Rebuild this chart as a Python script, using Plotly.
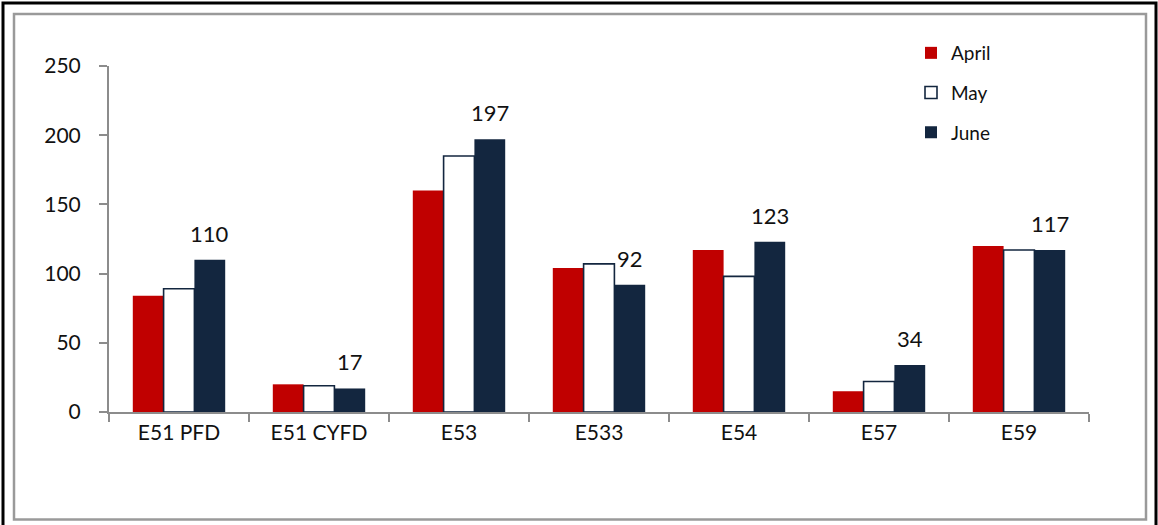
import plotly.graph_objects as go

categories = ["E51 PFD", "E51 CYFD", "E53", "E533", "E54", "E57", "E59"]
april = [84, 20, 160, 104, 117, 15, 120]
may = [89, 19, 185, 107, 98, 22, 117]
june = [110, 17, 197, 92, 123, 34, 117]
y_ticks = [0, 50, 100, 150, 200, 250]

RED = "#C00000"
NAVY = "#13263F"
FONT = "Lato, Open Sans, sans-serif"
BARGAP = 0.34

L, R, T, B = 109, 69, 66, 113
W, H = 1158, 525
pw, ph = W - L - R, H - T - B

fig = go.Figure()
fig.add_trace(go.Bar(name="April", x=categories, y=april,
                     marker=dict(color=RED, line=dict(color=RED, width=0)),
                     legendgroup="a"))
fig.add_trace(go.Bar(name="May", x=categories, y=may,
                     marker=dict(color="white", line=dict(color=NAVY, width=1.6)),
                     legendgroup="b"))
fig.add_trace(go.Bar(name="June", x=categories, y=june,
                     marker=dict(color=NAVY, line=dict(color=NAVY, width=0)),
                     legendgroup="c"))

# June value labels, placed above the June bar of each group
cat_px = pw / len(categories)
bar_px = cat_px * (1 - BARGAP) / 3
for c, v in zip(categories, june):
    fig.add_annotation(x=c, y=v, xref="x", yref="y", text=str(v),
                       showarrow=False, xanchor="center", yanchor="bottom",
                       xshift=bar_px, yshift=11,
                       font=dict(size=22, family=FONT, color="#111111"))


def px_x(p):
    return (p - L) / pw


def px_y(p):
    return (H - B - p) / ph


shapes = [
    dict(type="rect", xref="paper", yref="paper",
         x0=px_x(3), x1=px_x(1156), y0=px_y(700), y1=px_y(3),
         line=dict(color="black", width=3), layer="below"),
    dict(type="rect", xref="paper", yref="paper",
         x0=px_x(14), x1=px_x(1146), y0=px_y(519.5), y1=px_y(14),
         line=dict(color="#9a9a9a", width=2.5), layer="below"),
]

fig.update_layout(
    width=W, height=H,
    margin=dict(l=L, r=R, t=T, b=B, pad=0),
    paper_bgcolor="white", plot_bgcolor="white",
    barmode="group", bargap=BARGAP, bargroupgap=0,
    font=dict(family=FONT, size=19, color="#111111"),
    shapes=shapes,
    showlegend=True,
    legend=dict(x=px_x(911), y=px_y(34), xanchor="left", yanchor="top",
                font=dict(size=19, family=FONT, color="#111111"),
                tracegroupgap=12, bgcolor="rgba(0,0,0,0)",
                itemwidth=30),
)
fig.update_xaxes(
    showline=True, linecolor="#8c8c8c", linewidth=2,
    ticks="outside", tickson="boundaries", ticklen=8, tickcolor="#8c8c8c", tickwidth=2,
    tickfont=dict(size=21, family=FONT, color="#111111"),
    ticklabelstandoff=1,
    showgrid=False,
)
fig.update_yaxes(
    range=[0, 250], tickvals=y_ticks,
    showline=True, linecolor="#8c8c8c", linewidth=2,
    ticks="outside", ticklen=8, tickcolor="#8c8c8c", tickwidth=2,
    tickfont=dict(size=21, family=FONT, color="#111111"),
    ticklabelstandoff=14,
    showgrid=False, zeroline=False,
)

fig.write_html("out.html", config={"displayModeBar": False},
               post_script="document.body.style.margin='0px';document.body.style.overflow='hidden';")
